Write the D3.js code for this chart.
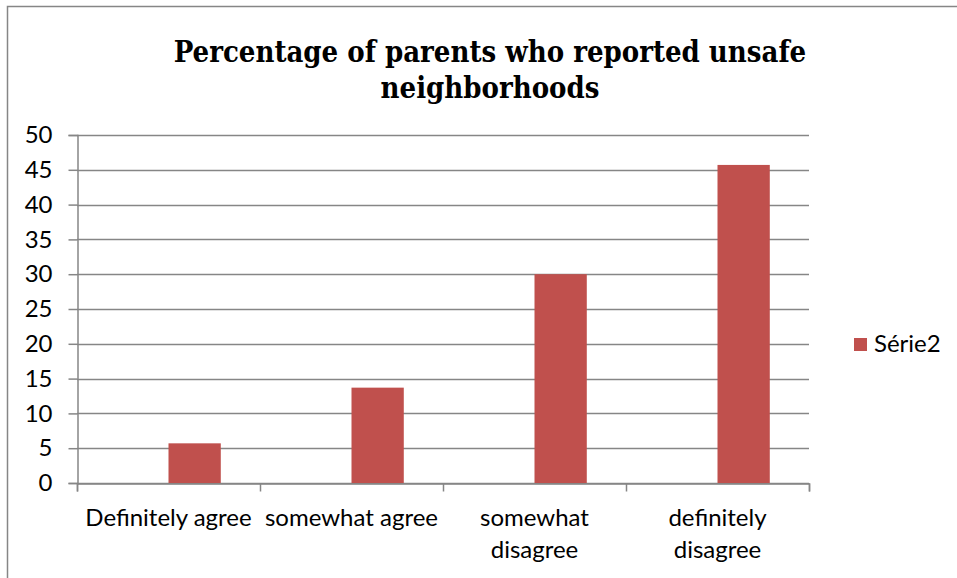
<!DOCTYPE html>
<html>
<head>
  <meta charset="utf-8">
  <title></title>
  <style>
    body,html{
      margin:0;
      padding:0;
      background:#fff;
    }
    text{
      font-family: Lato, "Liberation Sans", sans-serif;
      fill:#000;
    }
  </style>
</head>
<body>
  <div id="container"></div>
  <script src="https://d3js.org/d3.v7.min.js"></script>
  <script type="text/javascript">

    var categories = [['Definitely agree'], ['somewhat agree'], ['somewhat', 'disagree'], ['definitely', 'disagree']];
    var seriesNames = ['Série1', 'Série2'];
    var values = [5.7, 13.7, 30.0, 45.7];
    var yTicks = [0, 5, 10, 15, 20, 25, 30, 35, 40, 45, 50];
    var titleLines = ['Percentage of parents who reported unsafe', 'neighborhoods'];

    var width = 957, height = 578;
    var margin = {left:77, right:148, top:135, bottom:95};
    var barColor = '#c0504d', gridColor = '#868686';

    var svg = d3.select('#container').append('svg')
      .attr('width', width).attr('height', height);

    // chart border
    svg.append('rect')
      .attr('x', 7.5).attr('y', 6.5)
      .attr('width', width + 20).attr('height', height + 20)
      .attr('fill', '#fff').attr('stroke', gridColor).attr('stroke-width', 1.5);

    svg.append('text')
      .attr('text-anchor', 'middle')
      .style('font-family', '"DejaVu Serif Condensed", "DejaVu Serif", serif')
      .style('font-stretch', 'condensed')
      .style('font-weight', 'bold')
      .style('font-size', '29px')
      .selectAll('tspan').data(titleLines).enter().append('tspan')
      .attr('x', 490)
      .attr('y', function(d,i){ return 62 + i*36; })
      .text(function(d){ return d; });

    var x = d3.scaleBand()
      .domain(d3.range(categories.length))
      .range([margin.left, width - margin.right]);

    var xs = d3.scaleBand()
      .domain(seriesNames)
      .range([0, x.bandwidth()])
      .paddingInner(0).paddingOuter(0.75);

    var y = d3.scaleLinear().domain([0, 50])
      .range([height - margin.bottom, margin.top]);

    // gridlines
    svg.append('g').selectAll('line').data(yTicks).enter().append('line')
      .attr('x1', margin.left).attr('x2', width - margin.right)
      .attr('y1', function(d){ return Math.round(y(d)) + 0.5; })
      .attr('y2', function(d){ return Math.round(y(d)) + 0.5; })
      .attr('stroke', gridColor).attr('stroke-width', 1.5);

    // y axis
    var yAxis = svg.append('g')
      .attr('transform', 'translate(' + (margin.left + 0.5) + ',0)')
      .call(d3.axisLeft(y).tickValues(yTicks).tickSize(9).tickPadding(16));
    yAxis.select('.domain').attr('stroke', gridColor).attr('stroke-width', 1.5);
    yAxis.selectAll('.tick line').attr('stroke', gridColor).attr('stroke-width', 1.5);
    yAxis.selectAll('.tick text').style('font-size', '24px').style('font-family', 'Lato');

    // bars
    svg.append('g').selectAll('rect').data(values).enter().append('rect')
      .attr('x', function(d,i){ return x(i) + xs('Série2'); })
      .attr('width', xs.bandwidth())
      .attr('y', function(d){ return y(d); })
      .attr('height', function(d){ return y(0) - y(d); })
      .attr('fill', barColor);

    // x axis with ticks on category boundaries
    var bounds = d3.range(categories.length + 1);
    var xb = d3.scaleLinear().domain([0, categories.length]).range([margin.left, width - margin.right]);
    var xAxis = svg.append('g')
      .attr('transform', 'translate(0,' + (Math.round(y(0)) + 0.5) + ')')
      .call(d3.axisBottom(xb).tickValues(bounds).tickSize(8).tickFormat(''));
    xAxis.select('.domain').attr('stroke', gridColor).attr('stroke-width', 1.5);
    xAxis.selectAll('.tick line').attr('stroke', gridColor).attr('stroke-width', 1.5);

    // category labels
    svg.append('g').selectAll('text').data(categories).enter().append('text')
      .attr('text-anchor', 'middle')
      .style('font-size', '24px')
      .each(function(d,i){
        d3.select(this).selectAll('tspan').data(d).enter().append('tspan')
          .attr('x', x(i) + x.bandwidth()/2)
          .attr('y', function(t,j){ return 526 + j*32; })
          .text(function(t){ return t; });
      });

    // legend
    var legend = svg.append('g').attr('transform', 'translate(854,338)');
    legend.append('rect').attr('width', 13).attr('height', 13).attr('fill', barColor);
    legend.append('text').attr('x', 20).attr('y', 14).style('font-size', '24px').text(seriesNames[1]);

  </script>
</body>
</html>
